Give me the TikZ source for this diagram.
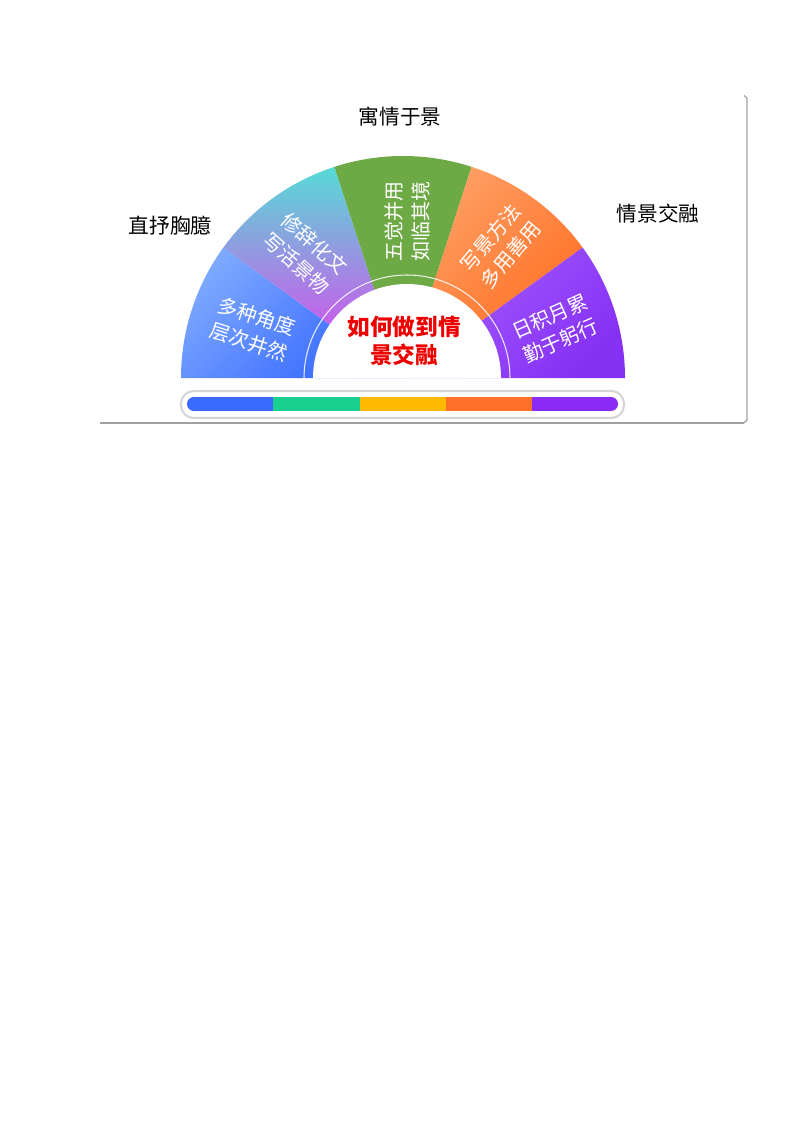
\documentclass[tikz,border=0pt]{standalone}
\usepackage{fontspec}
\usetikzlibrary{calc}
\newfontfamily\cjk{Noto Sans CJK SC}
\definecolor{segA1}{HTML}{7DA8FF}
\definecolor{segA2}{HTML}{3366FF}
\definecolor{segB1}{HTML}{58DAD6}
\definecolor{segBm}{HTML}{AC78EC}
\definecolor{segB2}{HTML}{C95CEA}
\definecolor{segC}{HTML}{6DA944}
\definecolor{segD1}{HTML}{FFA066}
\definecolor{segD2}{HTML}{FF6A1C}
\definecolor{segE1}{HTML}{A45EFF}
\definecolor{segE2}{HTML}{8630F4}
\definecolor{barA}{HTML}{3A6BFF}
\definecolor{barB}{HTML}{19D08F}
\definecolor{barC}{HTML}{FFBA00}
\definecolor{barD}{HTML}{FF7028}
\definecolor{barE}{HTML}{8A2BF5}
\definecolor{centred}{HTML}{EE0000}
\definecolor{marks}{HTML}{A0A0A0}
\begin{document}
\begin{tikzpicture}[x=0.75pt,y=0.75pt,
  seglabel/.style={text=white,font=\cjk\fontsize{15}{20}\selectfont,align=center,inner sep=0pt},
  outlabel/.style={text=black,font=\cjk\fontsize{15.5}{18}\selectfont,inner sep=0pt},
  centrelabel/.style={text=centred,font=\cjk\bfseries\fontsize{17}{20.5}\selectfont,align=center,inner sep=0pt},
  markline/.style={draw=marks,line width=0.9pt}]
\useasboundingbox (0,0) rectangle (794,-1123);
\coordinate (C) at (403,-378);
% segments
\shade[top color=segA1,bottom color=segA2,shading angle=45]
  (C) -- ++(180:222) arc[start angle=180,end angle=144,radius=222] -- cycle;
\begin{scope}
  \clip (C) -- ++(144:222) arc[start angle=144,end angle=108,radius=222] -- cycle;
  \shade[top color=segB1,middle color=segBm,bottom color=segB2] (215,-168) rectangle (405,-330);
  \fill[segB2] (215,-330) rectangle (405,-380);
\end{scope}
\fill[segC]
  (C) -- ++(108:222) arc[start angle=108,end angle=72,radius=222] -- cycle;
\shade[top color=segD1,bottom color=segD2,shading angle=45]
  (C) -- ++(72:222) arc[start angle=72,end angle=36,radius=222] -- cycle;
\shade[top color=segE1,bottom color=segE2,shading angle=45]
  (C) -- ++(36:222) arc[start angle=36,end angle=0,radius=222] -- cycle;
% inner ring line and white disc
\coordinate (Ci) at (407,-378);
\draw[white,line width=0.8pt,opacity=0.85] ($(Ci)+(103,0)$) arc[start angle=0,end angle=180,radius=103];
\fill[white] ($(Ci)+(94,0)$) arc[start angle=0,end angle=180,radius=94] -- cycle;
% segment labels
\node[seglabel,rotate=-18] (s1) at ($(C)+(162:158)$) {多种角度\\层次井然};
\node[seglabel,rotate=-42] (s2) at ($(C)+(128:158)$) {修辞化文\\写活景物};
\node[seglabel,rotate=90]  (s3) at ($(C)+(88.5:157)$)  {五觉并用\\如临其境};
\node[seglabel,rotate=50]  (s4) at ($(C)+(53.5:164)$)  {写景方法\\多用善用};
\node[seglabel,rotate=24]  (s5) at ($(C)+(18:160)$)  {日积月累\\勤于躬行};
% centre text
\node[centrelabel] (ctr) at (404,-341) {如何做到情\\景交融};
% outer labels
\node[outlabel] (top) at (400,-117) {寓情于景};
\node[outlabel] (left) at (170,-226) {直抒胸臆};
\node[outlabel] (right) at (658,-214) {情景交融};
% bottom bar
\draw[draw=black!16,line width=1.6pt,fill=white,rounded corners=9.5pt] (181,-391) rectangle (624,-418);
\begin{scope}
  \clip[rounded corners=5.2pt] (187,-397) rectangle (618,-411);
  \fill[barA] (187,-397) rectangle (273,-411);
  \fill[barB] (273,-397) rectangle (359.5,-411);
  \fill[barC] (359.5,-397) rectangle (446,-411);
  \fill[barD] (446,-397) rectangle (532,-411);
  \fill[barE] (532,-397) rectangle (618,-411);
\end{scope}
% page marks
\coordinate (m1) at (744,-95.5);
\coordinate (m2) at (747,-98);
\coordinate (m3) at (747,-420);
\coordinate (m4) at (744,-423);
\coordinate (m5) at (100,-423);
\draw[markline] (m1) -- (m2) -- (m3) -- (m4);
\draw[markline] (m5) -- (m4);
\end{tikzpicture}
\end{document}
